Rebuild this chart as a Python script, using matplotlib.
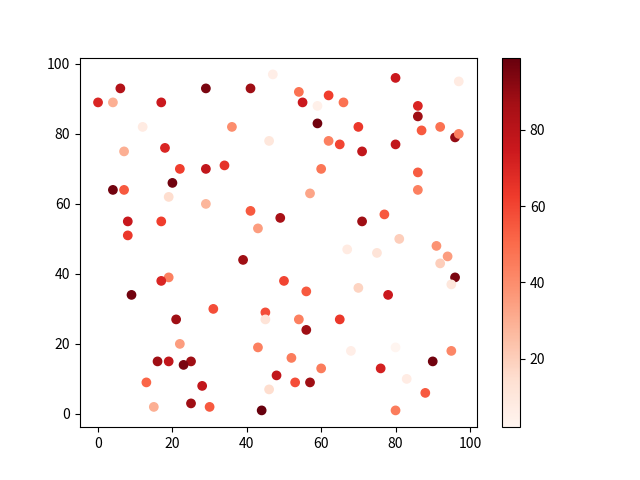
import matplotlib
matplotlib.use("Agg")
import matplotlib.pyplot as plt

plt.rcParams['font.family'] = ['Noto Sans CJK SC', 'DejaVu Sans']

x = [47, 6, 29, 41, 0, 4, 17, 12, 36, 46,
     7, 18, 22, 29, 34, 20, 4, 7, 19, 29,
     41, 43, 49, 8, 17, 8,
     80, 97, 54, 62, 55, 59, 66, 86, 86, 59,
     70, 87, 92, 96, 97, 62, 65, 71, 80, 60,
     86, 86, 57, 71, 77, 81, 91,
     39, 19, 17, 9, 31, 45, 45, 21, 22, 43,
     16, 19, 25, 23, 48, 13, 28, 46, 15, 25,
     30, 44,
     67, 75, 94, 92, 96, 95, 50, 56, 70, 78,
     54, 65, 56, 68, 80, 95, 90, 52, 60, 76,
     53, 57, 83, 88, 80]
y = [97, 93, 93, 93, 89, 89, 89, 82, 82, 78,
     75, 76, 70, 70, 71, 66, 64, 64, 62, 60,
     58, 53, 56, 55, 55, 51,
     96, 95, 92, 91, 89, 88, 89, 88, 85, 83,
     82, 81, 82, 79, 80, 78, 77, 75, 77, 70,
     69, 64, 63, 55, 57, 50, 48,
     44, 39, 38, 34, 30, 29, 27, 27, 20, 19,
     15, 15, 15, 14, 11, 9, 8, 7, 2, 3,
     2, 1,
     47, 46, 45, 43, 39, 37, 38, 35, 36, 34,
     27, 27, 24, 18, 19, 18, 15, 16, 13, 13,
     9, 9, 10, 6, 1]
c = [6, 82, 95, 88, 70, 30, 75, 8, 40, 10,
     30, 70, 62, 78, 66, 97, 97, 55, 15, 28,
     55, 35, 86, 76, 62, 64,
     75, 8, 48, 62, 75, 5, 48, 70, 88, 97,
     64, 55, 48, 90, 44, 44, 60, 78, 78, 47,
     54, 44, 33, 88, 55, 20, 38,
     88, 44, 70, 97, 58, 58, 12, 88, 35, 44,
     88, 78, 88, 95, 78, 52, 78, 15, 30, 88,
     55, 99,
     8, 12, 35, 20, 95, 10, 60, 55, 18, 75,
     44, 64, 88, 6, 2, 42, 97, 45, 45, 72,
     58, 88, 7, 55, 45]

fig, ax = plt.subplots(figsize=(6.4, 4.8), dpi=100)
sc = ax.scatter(x, y, c=c, cmap='Reds')
fig.colorbar(sc)
fig.savefig('out.png')
